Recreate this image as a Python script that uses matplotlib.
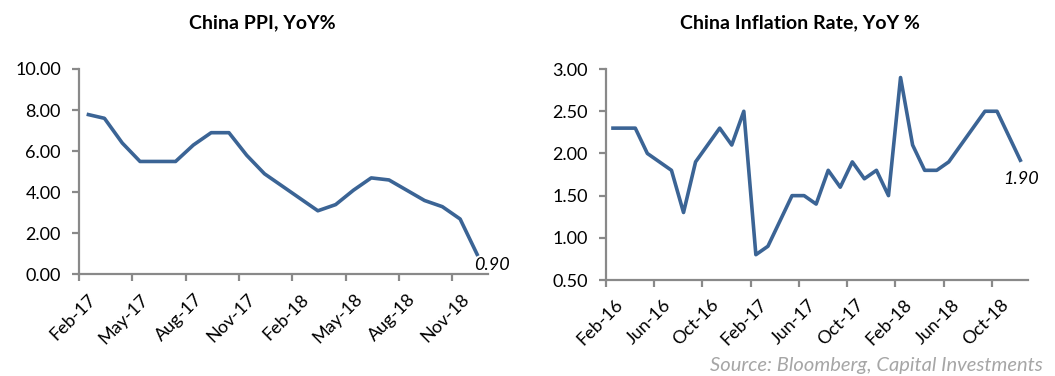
import numpy as np
import matplotlib
matplotlib.use('Agg')
import matplotlib.pyplot as plt
import matplotlib.transforms as mtransforms

plt.rcParams['font.family'] = ['Lato', 'DejaVu Sans']

# China PPI YoY %, Feb-17 .. Dec-18 (monthly)
ppi = [7.8, 7.6, 6.4, 5.5, 5.5, 5.5, 6.3, 6.9, 6.9, 5.8, 4.9, 4.3,
       3.7, 3.1, 3.4, 4.1, 4.7, 4.6, 4.1, 3.6, 3.3, 2.7, 0.9]
ppi_ticks = ['Feb-17', 'May-17', 'Aug-17', 'Nov-17', 'Feb-18', 'May-18', 'Aug-18', 'Nov-18']
ppi_yticks = [0, 2, 4, 6, 8, 10]

# China CPI YoY %, Feb-16 .. Dec-18 (monthly)
cpi = [2.3, 2.3, 2.3, 2.0, 1.9, 1.8, 1.3, 1.9, 2.1, 2.3, 2.1,
       2.5, 0.8, 0.9, 1.2, 1.5, 1.5, 1.4, 1.8, 1.6, 1.9, 1.7, 1.8,
       1.5, 2.9, 2.1, 1.8, 1.8, 1.9, 2.1, 2.3, 2.5, 2.5, 2.2, 1.9]
cpi_ticks = ['Feb-16', 'Jun-16', 'Oct-16', 'Feb-17', 'Jun-17', 'Oct-17', 'Feb-18', 'Jun-18', 'Oct-18']
cpi_yticks = [0.5, 1.0, 1.5, 2.0, 2.5, 3.0]

LINE = '#3b6495'
AXC = '#898989'
FS = 13

fig = plt.figure(figsize=(10.55, 3.76), dpi=100)
ax1 = fig.add_axes([0.0749, 0.270, 0.3877, 0.5465])
ax2 = fig.add_axes([0.5744, 0.2553, 0.4000, 0.5610])


def style(ax, vals, ticks, step, yticks):
    n = len(vals)
    x = np.arange(n) + 0.43
    ax.plot(x, vals, color=LINE, lw=2.6, solid_capstyle='butt', solid_joinstyle='round')
    ax.set_xlim(0, n)
    ax.set_ylim(yticks[0], yticks[-1])
    ax.set_yticks(yticks)
    ax.set_yticklabels(['%.2f' % v for v in yticks])
    ax.set_xticks(np.arange(len(ticks)) * step)
    ax.set_xticklabels(ticks, rotation=45, ha='right', va='center', rotation_mode='anchor')
    for s in ['top', 'right']:
        ax.spines[s].set_visible(False)
    for s in ['left', 'bottom']:
        ax.spines[s].set_color(AXC)
        ax.spines[s].set_linewidth(1.6)
    ax.tick_params(axis='both', colors=AXC, labelcolor='black', labelsize=FS,
                   length=5, width=1.6, direction='out')
    ax.tick_params(axis='y', pad=8)
    ax.tick_params(axis='x', pad=11)
    off = mtransforms.ScaledTranslation(14 / 100, 0, fig.dpi_scale_trans)
    for lab in ax.get_xticklabels():
        lab.set_transform(lab.get_transform() + off)
    return x


x1 = style(ax1, ppi, ppi_ticks, 3, ppi_yticks)
x2 = style(ax2, cpi, cpi_ticks, 4, cpi_yticks)

ax1.annotate('%.2f' % ppi[-1], (x1[-1], ppi[-1]), xytext=(-4, -1), textcoords='offset pixels',
             ha='left', va='top', fontsize=FS, style='italic', annotation_clip=False)
ax2.annotate('%.2f' % cpi[-1], (x2[-1], cpi[-1]), xytext=(0, -9), textcoords='offset pixels',
             ha='center', va='top', fontsize=FS, style='italic', annotation_clip=False)

fig.text(262 / 1055, 1 - 23 / 376, 'China PPI, YoY%', ha='center', va='center',
         fontsize=14, fontweight='bold')
fig.text(800 / 1055, 1 - 23 / 376, 'China Inflation Rate, YoY %', ha='center', va='center',
         fontsize=14, fontweight='bold')
fig.text(1043 / 1055, 1 - 366 / 376, 'Source: Bloomberg, Capital Investments', ha='right',
         va='center', fontsize=14.5, style='italic', color='#a6a6a6')

fig.savefig('out.png', dpi=100)
